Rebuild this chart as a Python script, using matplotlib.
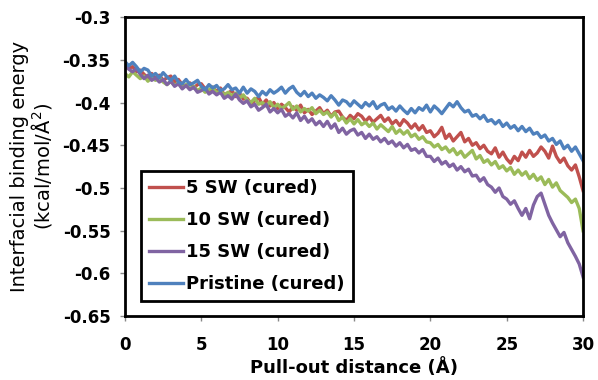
import numpy as np
import matplotlib
matplotlib.use("Agg")
import matplotlib.pyplot as plt

plt.rcParams['font.family'] = ['DejaVu Sans']

# pull-out distance (Å), step 0.25
distance = np.arange(0, 30.01, 0.25)

sw5 = [-0.355, -0.360, -0.358, -0.364, -0.362, -0.367, -0.371, -0.366,
       -0.372, -0.368, -0.374, -0.371, -0.369, -0.376, -0.373, -0.379,
       -0.381, -0.377, -0.383, -0.379, -0.378, -0.384, -0.388, -0.382,
       -0.387, -0.383, -0.391, -0.389, -0.386, -0.393, -0.389, -0.396,
       -0.395, -0.401, -0.398, -0.394, -0.402, -0.397, -0.404, -0.400,
       -0.407, -0.402, -0.406, -0.411, -0.405, -0.409, -0.403, -0.412,
       -0.408, -0.414, -0.410, -0.406, -0.413, -0.409, -0.416, -0.411,
       -0.410, -0.417, -0.421, -0.415, -0.419, -0.413, -0.416, -0.422,
       -0.417, -0.423, -0.419, -0.415, -0.422, -0.418, -0.425, -0.421,
       -0.427, -0.420, -0.424, -0.430, -0.425, -0.432, -0.427, -0.435,
       -0.433, -0.440, -0.436, -0.429, -0.442, -0.437, -0.445, -0.440,
       -0.435, -0.446, -0.442, -0.450, -0.447, -0.454, -0.450, -0.457,
       -0.460, -0.453, -0.464, -0.458, -0.466, -0.471, -0.463, -0.468,
       -0.458, -0.464, -0.456, -0.463, -0.459, -0.452, -0.457, -0.465,
       -0.451, -0.463, -0.470, -0.465, -0.474, -0.479, -0.473, -0.487,
       -0.503]

sw10 = [-0.366, -0.370, -0.364, -0.368, -0.372, -0.369, -0.375, -0.371,
        -0.374, -0.370, -0.376, -0.379, -0.375, -0.380, -0.377, -0.383,
        -0.379, -0.384, -0.381, -0.386, -0.383, -0.388, -0.385, -0.382,
        -0.389, -0.386, -0.391, -0.388, -0.392, -0.389, -0.395, -0.391,
        -0.397, -0.400, -0.395, -0.402, -0.400, -0.404, -0.399, -0.406,
        -0.402, -0.407, -0.404, -0.400, -0.408, -0.404, -0.411, -0.407,
        -0.410, -0.406, -0.413, -0.409, -0.414, -0.411, -0.417, -0.412,
        -0.421, -0.417, -0.424, -0.419, -0.425, -0.420, -0.426, -0.423,
        -0.428, -0.424, -0.431, -0.426, -0.430, -0.434, -0.428, -0.436,
        -0.432, -0.437, -0.433, -0.440, -0.437, -0.443, -0.440, -0.446,
        -0.447, -0.452, -0.449, -0.455, -0.452, -0.458, -0.454, -0.461,
        -0.457, -0.464, -0.460, -0.456, -0.466, -0.462, -0.470, -0.467,
        -0.473, -0.469, -0.477, -0.474, -0.480, -0.476, -0.484, -0.479,
        -0.485, -0.481, -0.489, -0.484, -0.491, -0.487, -0.496, -0.490,
        -0.499, -0.494, -0.503, -0.507, -0.511, -0.517, -0.513, -0.524,
        -0.550]

sw15 = [-0.357, -0.361, -0.364, -0.360, -0.367, -0.372, -0.368, -0.374,
        -0.371, -0.376, -0.373, -0.379, -0.375, -0.381, -0.378, -0.384,
        -0.380, -0.385, -0.382, -0.388, -0.386, -0.383, -0.390, -0.387,
        -0.391, -0.388, -0.395, -0.392, -0.396, -0.390, -0.397, -0.401,
        -0.398, -0.405, -0.402, -0.409, -0.406, -0.402, -0.411, -0.407,
        -0.412, -0.408, -0.416, -0.413, -0.418, -0.412, -0.421, -0.416,
        -0.423, -0.419, -0.426, -0.422, -0.428, -0.422, -0.430, -0.425,
        -0.435, -0.430, -0.437, -0.433, -0.431, -0.438, -0.435, -0.442,
        -0.437, -0.443, -0.440, -0.446, -0.442, -0.448, -0.445, -0.451,
        -0.447, -0.453, -0.449, -0.456, -0.454, -0.459, -0.455, -0.463,
        -0.463, -0.469, -0.465, -0.472, -0.469, -0.475, -0.472, -0.479,
        -0.475, -0.481, -0.478, -0.486, -0.485, -0.492, -0.488, -0.496,
        -0.499, -0.505, -0.500, -0.510, -0.513, -0.519, -0.515, -0.524,
        -0.532, -0.524, -0.536, -0.520, -0.510, -0.506, -0.519, -0.532,
        -0.541, -0.549, -0.557, -0.552, -0.564, -0.572, -0.580, -0.589,
        -0.604]

pristine = [-0.352, -0.357, -0.353, -0.358, -0.364, -0.360, -0.362, -0.369,
            -0.366, -0.371, -0.365, -0.370, -0.374, -0.369, -0.376, -0.378,
            -0.373, -0.379, -0.377, -0.374, -0.381, -0.385, -0.379, -0.383,
            -0.380, -0.386, -0.384, -0.379, -0.385, -0.383, -0.389, -0.382,
            -0.389, -0.384, -0.387, -0.393, -0.387, -0.391, -0.385, -0.389,
            -0.386, -0.382, -0.389, -0.384, -0.381, -0.388, -0.392, -0.387,
            -0.393, -0.389, -0.395, -0.391, -0.394, -0.398, -0.392, -0.397,
            -0.403, -0.397, -0.399, -0.404, -0.398, -0.402, -0.406, -0.400,
            -0.404, -0.399, -0.407, -0.403, -0.401, -0.408, -0.405, -0.410,
            -0.404, -0.409, -0.413, -0.407, -0.412, -0.406, -0.409, -0.403,
            -0.411, -0.404, -0.408, -0.413, -0.407, -0.401, -0.405, -0.399,
            -0.406, -0.411, -0.409, -0.416, -0.414, -0.419, -0.415, -0.422,
            -0.420, -0.425, -0.421, -0.428, -0.424, -0.430, -0.427, -0.433,
            -0.428, -0.434, -0.430, -0.437, -0.435, -0.441, -0.438, -0.445,
            -0.442, -0.449, -0.445, -0.454, -0.450, -0.457, -0.452, -0.460,
            -0.468]

labels = ["5 SW (cured)", "10 SW (cured)", "15 SW (cured)", "Pristine (cured)"]
colors = ["#C0504D", "#9BBB59", "#8064A2", "#4F81BD"]

fig = plt.figure(figsize=(5.98, 3.8), dpi=100)
ax = fig.add_axes([0.209, 0.168, 0.766, 0.787])

for y, lab, c in zip([sw5, sw10, sw15, pristine], labels, colors):
    ax.plot(distance, y, color=c, lw=2.4, label=lab)

ax.set_xlim(0, 30)
ax.set_ylim(-0.65, -0.3)
ax.set_xticks([0, 5, 10, 15, 20, 25, 30])
ax.set_yticks([-0.65, -0.6, -0.55, -0.5, -0.45, -0.4, -0.35, -0.3])
ax.set_yticklabels(["-0.65", "-0.6", "-0.55", "-0.5", "-0.45", "-0.4", "-0.35", "-0.3"])
ax.tick_params(labelsize=12, length=3.5, color="#888888", width=1)
ax.tick_params(axis="y", pad=7)
ax.tick_params(axis="x", pad=11)
for t in ax.get_xticklabels() + ax.get_yticklabels():
    t.set_fontweight("bold")
for s in ax.spines.values():
    s.set_linewidth(2)

ax.set_xlabel("Pull-out distance (Å)", fontsize=13, fontweight="bold", labelpad=3)
ax.set_ylabel("Interfacial binding energy\n(kcal/mol/Å$^\\mathregular{2}$)", fontsize=14,
              labelpad=6, linespacing=1.0)

leg = ax.legend(loc="lower left", bbox_to_anchor=(0.035, 0.05), borderaxespad=0,
                fancybox=False, framealpha=1, handlelength=1.9,
                handletextpad=0.15, labelspacing=0.78, borderpad=0.45,
                prop={"size": 13, "weight": "bold"})
leg.get_frame().set_edgecolor("black")
leg.get_frame().set_linewidth(2)

fig.savefig("out.png", dpi=100)
